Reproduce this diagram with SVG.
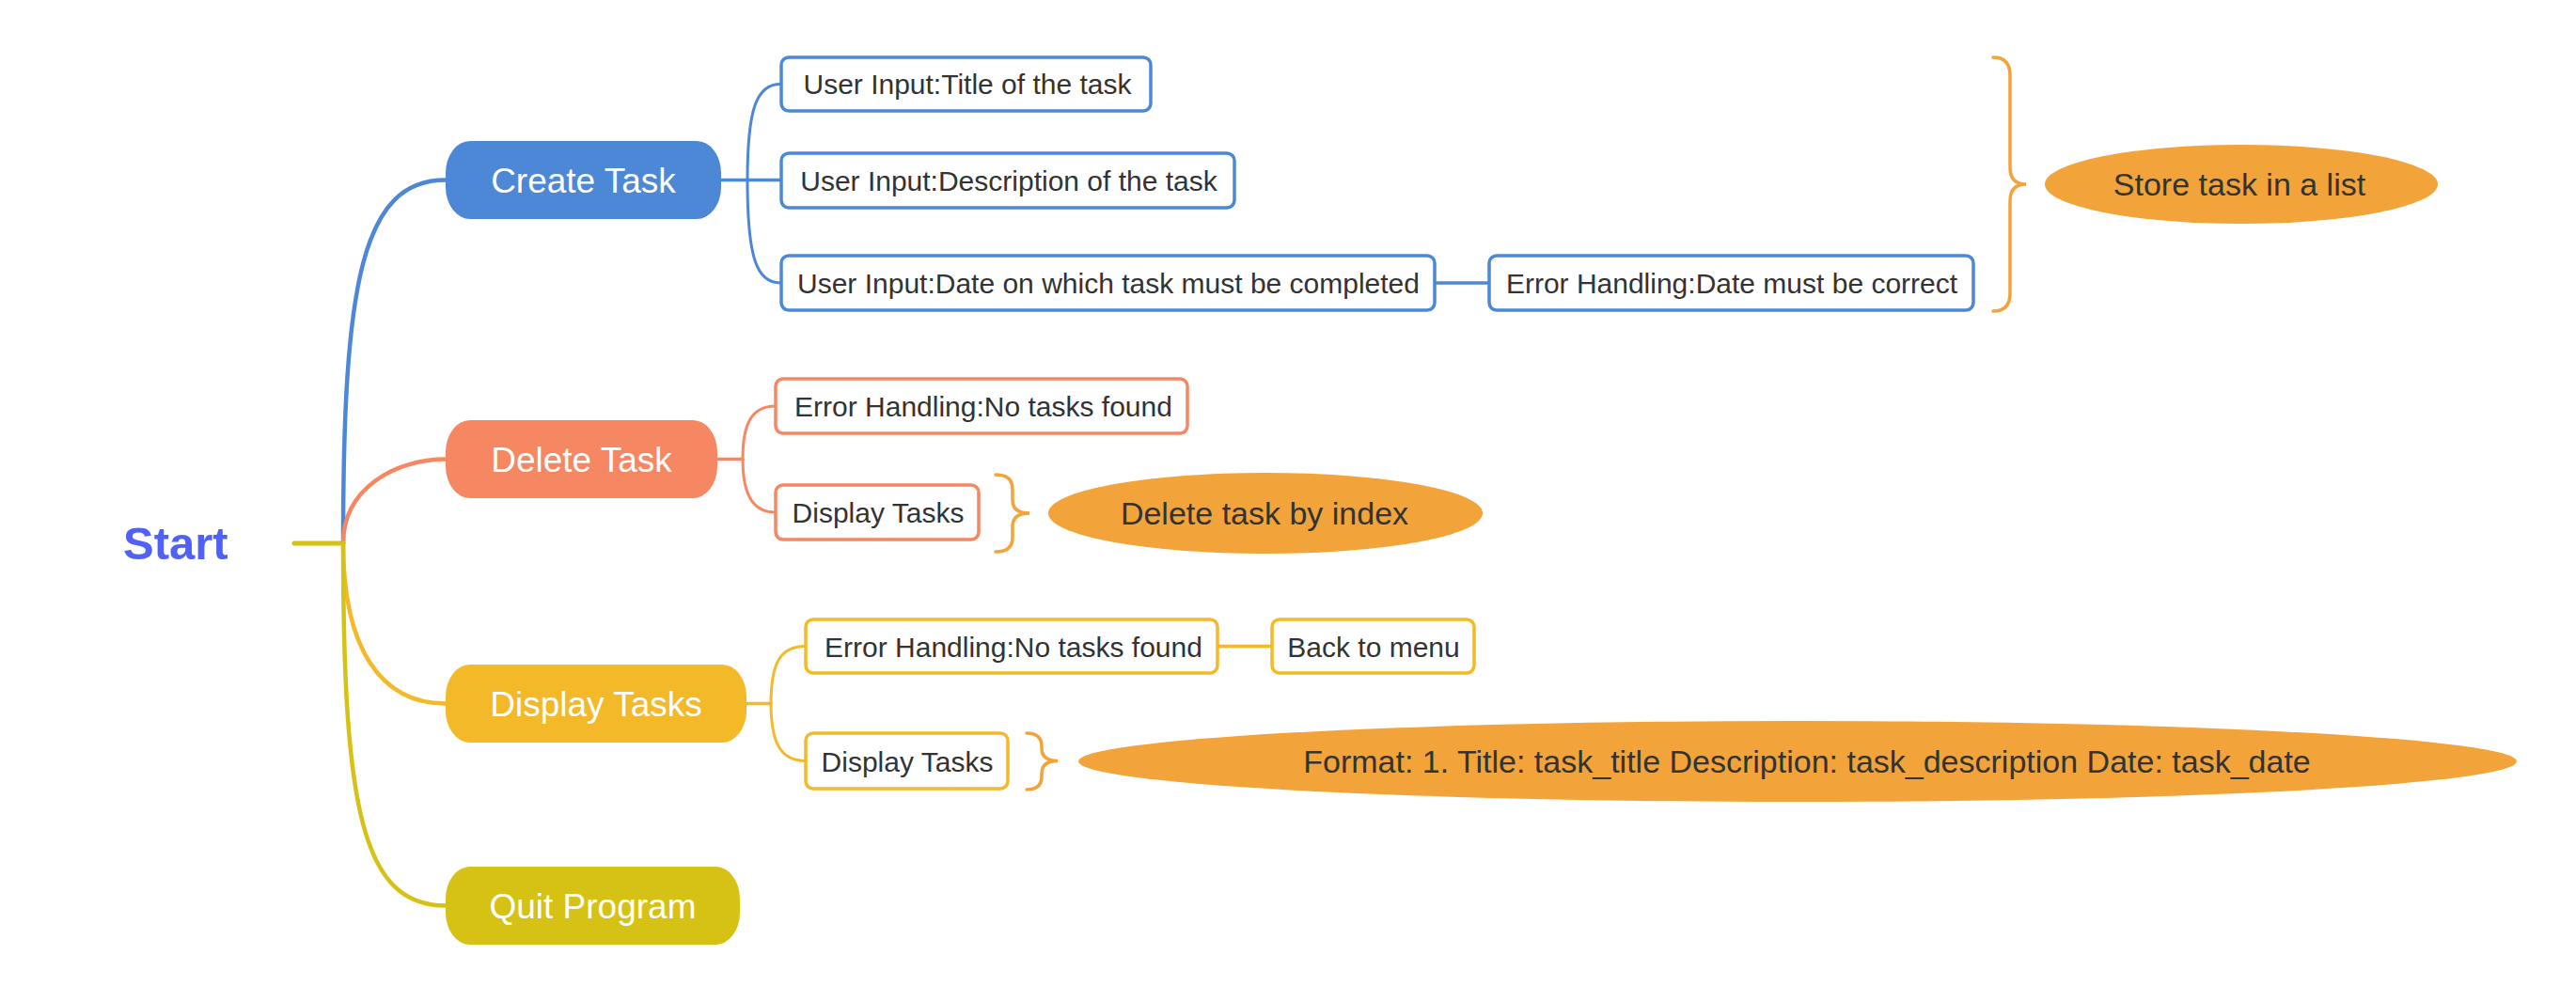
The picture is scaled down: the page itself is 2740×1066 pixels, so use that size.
<svg xmlns="http://www.w3.org/2000/svg" width="2740" height="1066" viewBox="0 0 2740 1066">
<style>
text{font-family:"Liberation Sans",Arial,sans-serif}
.main text{fill:#fff;font-size:37px;text-anchor:middle}
.box rect{fill:#fff;stroke-width:3.5}
.box text{fill:#333;font-size:30px;text-anchor:middle}
.ell ellipse{fill:#F2A43A}
.ell text{fill:#333;font-size:34px;text-anchor:middle}
.conn path{fill:none;stroke-linecap:round}
.blue{stroke:#4C88D6}
.salmon{stroke:#F58762}
.gold{stroke:#F3B929}
.olive{stroke:#D5C214}
.brace{stroke:#F2A43A;stroke-width:3.5}
</style>
<rect width="2740" height="1066" fill="#fff"/>
<g id="connectors" class="conn">
  <path class="olive" stroke-width="5" d="M313,578 H365"/>
  <path class="blue" stroke-width="4.5" d="M365,578 C365,300 385,191.5 474,191.5"/>
  <path class="salmon" stroke-width="4.5" d="M365,578 C365,520 420,488.5 474,488.5"/>
  <path class="gold" stroke-width="4.5" d="M365,578 C365,690 405,748.5 474,748.5"/>
  <path class="olive" stroke-width="4.5" d="M365,578 C365,860 385,963.5 474,963.5"/>
  <path class="blue" stroke-width="3.5" d="M767,191.5 H830"/>
  <path class="blue" stroke-width="3" d="M795,191.5 C795,115 805,89.5 830,89.5"/>
  <path class="blue" stroke-width="3" d="M795,191.5 C795,275 805,301 830,301"/>
  <path class="blue" stroke-width="3.5" d="M1527,301 H1583"/>
  <path class="salmon" stroke-width="3.5" d="M763,488.5 H790"/>
  <path class="salmon" stroke-width="3" d="M790,488.5 C790,450 800,432 825,432"/>
  <path class="salmon" stroke-width="3" d="M790,488.5 C790,525 800,545 825,545"/>
  <path class="gold" stroke-width="3.5" d="M794,748.5 H820"/>
  <path class="gold" stroke-width="3" d="M820,748.5 C820,705 830,687.5 857,687.5"/>
  <path class="gold" stroke-width="3" d="M820,748.5 C820,790 830,809.5 857,809.5"/>
  <path class="gold" stroke-width="3.5" d="M1296,687.5 H1352"/>
  <path class="brace" d="M2120,61 Q2138,61 2138,80 V178 Q2138,196 2155,196 Q2138,196 2138,214 V312 Q2138,331 2120,331"/>
  <path class="brace" d="M1059,505 Q1077,505 1077,520 V532 Q1077,546 1095,546 Q1077,546 1077,560 V572 Q1077,587 1059,587"/>
  <path class="brace" d="M1092,780 Q1108,780 1108,794 V796 Q1108,809.5 1125,809.5 Q1108,809.5 1108,823 V826 Q1108,840 1092,840"/>
</g>
<g id="start">
  <text x="131" y="595" style="font-size:49px;font-weight:bold;fill:#4F62F5">Start</text>
</g>
<g id="create-task" class="main">
  <rect x="474" y="150" width="293" height="83" rx="26" ry="34" fill="#4C88D6"/>
  <text x="620.5" y="205">Create Task</text>
</g>
<g id="delete-task" class="main">
  <rect x="474" y="447" width="289" height="83" rx="26" ry="34" fill="#F58762"/>
  <text x="618.5" y="502">Delete Task</text>
</g>
<g id="display-tasks" class="main">
  <rect x="474" y="707" width="320" height="83" rx="26" ry="34" fill="#F3B929"/>
  <text x="634" y="762">Display Tasks</text>
</g>
<g id="quit-program" class="main">
  <rect x="474" y="922" width="313" height="83" rx="26" ry="34" fill="#D5C214"/>
  <text x="630.5" y="977">Quit Program</text>
</g>
<g id="input-title" class="box">
  <rect class="blue" x="831" y="61" width="393" height="57" rx="8"/>
  <text x="1029" y="100">User Input:Title of the task</text>
</g>
<g id="input-description" class="box">
  <rect class="blue" x="831" y="163" width="482" height="58" rx="8"/>
  <text x="1073" y="203">User Input:Description of the task</text>
</g>
<g id="input-date" class="box">
  <rect class="blue" x="831" y="272" width="695" height="58" rx="8"/>
  <text x="1179" y="312">User Input:Date on which task must be completed</text>
</g>
<g id="error-date" class="box">
  <rect class="blue" x="1584" y="272" width="515" height="58" rx="8"/>
  <text x="1842" y="312">Error Handling:Date must be correct</text>
</g>
<g id="store-task" class="ell">
  <ellipse cx="2384" cy="196" rx="209" ry="42"/>
  <text x="2382" y="208">Store task in a list</text>
</g>
<g id="delete-error" class="box">
  <rect class="salmon" x="825" y="403" width="438" height="58" rx="8"/>
  <text x="1046" y="443">Error Handling:No tasks found</text>
</g>
<g id="delete-display" class="box">
  <rect class="salmon" x="825" y="516" width="216" height="58" rx="8"/>
  <text x="934" y="556">Display Tasks</text>
</g>
<g id="delete-by-index" class="ell">
  <ellipse cx="1346" cy="546" rx="231" ry="43"/>
  <text x="1345" y="558">Delete task by index</text>
</g>
<g id="display-error" class="box">
  <rect class="gold" x="857" y="659" width="438" height="57" rx="8"/>
  <text x="1078" y="699">Error Handling:No tasks found</text>
</g>
<g id="back-to-menu" class="box">
  <rect class="gold" x="1353" y="659" width="215" height="57" rx="8"/>
  <text x="1461" y="699">Back to menu</text>
</g>
<g id="display-display" class="box">
  <rect class="gold" x="857" y="780" width="215" height="59" rx="8"/>
  <text x="965" y="821">Display Tasks</text>
</g>
<g id="format" class="ell">
  <ellipse cx="1912" cy="810" rx="765" ry="43"/>
  <text x="1922" y="822">Format: 1. Title: task_title Description: task_description Date: task_date</text>
</g>
</svg>
